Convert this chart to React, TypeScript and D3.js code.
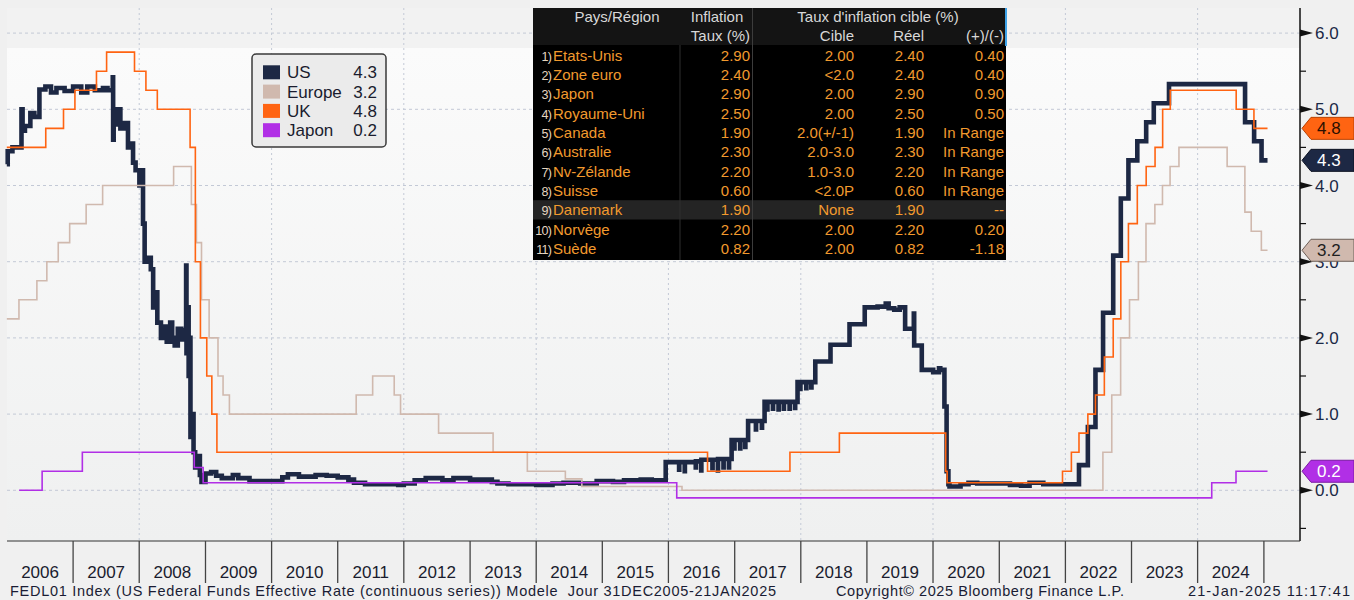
import React from 'react';
import * as d3 from 'd3';

// ---------- Data ----------
const usSeries: [string, number][] = [
  ['2005-12-31', 4.28], ['2006-01-05', 4.45], ['2006-01-31', 4.5], ['2006-03-22', 5.0], ['2006-03-28', 4.72],
  ['2006-04-10', 4.78], ['2006-05-10', 4.95], ['2006-06-01', 4.9], ['2006-06-29', 5.26], ['2006-08-01', 5.3],
  ['2006-09-01', 5.22], ['2006-10-01', 5.28], ['2006-11-15', 5.24], ['2007-01-01', 5.3], ['2007-02-15', 5.22],
  ['2007-03-20', 5.3], ['2007-05-01', 5.25], ['2007-06-15', 5.28], ['2007-07-10', 5.25], ['2007-08-08', 5.42],
  ['2007-08-10', 4.6], ['2007-08-13', 5.0], ['2007-08-20', 4.8], ['2007-09-05', 5.0], ['2007-09-19', 4.75],
  ['2007-10-10', 4.82], ['2007-10-31', 4.5], ['2007-11-15', 4.55], ['2007-11-28', 4.3], ['2007-12-12', 4.2],
  ['2008-01-02', 4.0], ['2008-01-10', 4.2], ['2008-01-22', 3.5], ['2008-01-31', 3.0], ['2008-02-20', 3.05],
  ['2008-03-05', 2.9], ['2008-03-18', 2.4], ['2008-03-26', 2.6], ['2008-04-10', 2.2], ['2008-04-30', 2.0],
  ['2008-05-15', 2.15], ['2008-06-01', 1.95], ['2008-06-20', 2.2], ['2008-07-01', 2.0], ['2008-07-15', 1.9],
  ['2008-08-01', 2.12], ['2008-08-20', 1.98], ['2008-09-10', 2.1], ['2008-09-16', 2.95], ['2008-09-18', 1.8],
  ['2008-09-25', 2.4], ['2008-09-30', 1.5], ['2008-10-06', 2.0], ['2008-10-10', 0.7], ['2008-10-20', 1.0],
  ['2008-10-27', 0.5], ['2008-11-05', 0.3], ['2008-11-20', 0.45], ['2008-12-01', 0.2], ['2008-12-10', 0.11],
  ['2009-01-01', 0.22], ['2009-02-01', 0.24], ['2009-03-01', 0.19], ['2009-04-01', 0.16], ['2009-06-01', 0.2],
  ['2009-07-01', 0.16], ['2009-09-01', 0.12], ['2009-10-01', 0.12], ['2010-01-01', 0.12], ['2010-03-01', 0.17],
  ['2010-04-01', 0.21], ['2010-06-01', 0.18], ['2010-09-01', 0.2], ['2010-11-01', 0.19], ['2011-01-01', 0.17],
  ['2011-03-01', 0.14], ['2011-04-01', 0.1], ['2011-06-01', 0.08], ['2011-09-01', 0.08], ['2011-12-01', 0.07],
  ['2012-01-01', 0.09], ['2012-03-01', 0.13], ['2012-05-01', 0.16], ['2012-08-01', 0.13], ['2012-10-01', 0.16],
  ['2013-01-01', 0.14], ['2013-05-01', 0.11], ['2013-06-01', 0.09], ['2013-08-01', 0.08], ['2014-01-01', 0.07],
  ['2014-04-01', 0.09], ['2014-06-01', 0.1], ['2014-09-01', 0.09], ['2014-12-01', 0.12], ['2015-03-01', 0.11],
  ['2015-05-01', 0.13], ['2015-08-01', 0.14], ['2015-10-01', 0.13], ['2015-12-17', 0.37], ['2016-02-29', 0.27],
  ['2016-03-01', 0.37], ['2016-03-31', 0.25], ['2016-04-01', 0.37], ['2016-05-31', 0.3], ['2016-06-01', 0.38],
  ['2016-06-30', 0.26], ['2016-07-01', 0.4], ['2016-08-31', 0.29], ['2016-09-01', 0.4], ['2016-09-30', 0.26],
  ['2016-10-01', 0.41], ['2016-10-31', 0.3], ['2016-11-01', 0.41], ['2016-11-30', 0.3], ['2016-12-01', 0.41],
  ['2016-12-15', 0.66], ['2016-12-30', 0.55], ['2016-12-31', 0.66], ['2017-01-31', 0.55], ['2017-02-01', 0.66],
  ['2017-02-28', 0.57], ['2017-03-01', 0.66], ['2017-03-16', 0.91], ['2017-04-28', 0.8], ['2017-04-29', 0.91],
  ['2017-05-31', 0.82], ['2017-06-01', 0.91], ['2017-06-15', 1.16], ['2017-06-30', 1.06], ['2017-07-01', 1.16],
  ['2017-07-31', 1.07], ['2017-08-01', 1.16], ['2017-08-31', 1.06], ['2017-09-01', 1.16], ['2017-09-29', 1.07],
  ['2017-09-30', 1.16], ['2017-10-31', 1.07], ['2017-11-01', 1.16], ['2017-11-30', 1.08], ['2017-12-01', 1.16],
  ['2017-12-14', 1.42], ['2017-12-29', 1.33], ['2017-12-30', 1.42], ['2018-01-31', 1.34], ['2018-02-01', 1.42],
  ['2018-02-28', 1.35], ['2018-03-01', 1.42], ['2018-03-22', 1.69], ['2018-06-14', 1.91], ['2018-09-27', 2.18],
  ['2018-12-20', 2.4], ['2019-03-01', 2.41], ['2019-04-15', 2.45], ['2019-05-01', 2.39], ['2019-06-01', 2.37],
  ['2019-07-01', 2.4], ['2019-07-31', 2.12], ['2019-09-17', 2.32], ['2019-09-19', 1.9], ['2019-10-31', 1.58],
  ['2020-01-02', 1.55], ['2020-02-03', 1.6], ['2020-02-10', 1.58], ['2020-03-04', 1.1], ['2020-03-16', 0.25],
  ['2020-03-26', 0.08], ['2020-04-01', 0.05], ['2020-06-01', 0.08], ['2020-07-15', 0.1], ['2020-09-01', 0.09],
  ['2021-01-01', 0.09], ['2021-03-01', 0.07], ['2021-05-01', 0.06], ['2021-06-17', 0.1], ['2021-09-01', 0.08],
  ['2022-01-01', 0.08], ['2022-03-17', 0.33], ['2022-05-05', 0.83], ['2022-06-16', 1.58], ['2022-07-28', 2.33],
  ['2022-09-22', 3.08], ['2022-11-03', 3.83], ['2022-12-15', 4.33], ['2023-02-02', 4.58], ['2023-03-23', 4.83],
  ['2023-05-04', 5.08], ['2023-07-27', 5.33], ['2024-09-19', 4.83], ['2024-11-08', 4.58], ['2024-12-19', 4.33],
  ['2025-01-21', 4.33],
];

const europeSeries: [string, number][] = [
  ['2005-12-31', 2.25], ['2006-03-08', 2.5], ['2006-06-15', 2.75], ['2006-08-09', 3.0], ['2006-10-11', 3.25],
  ['2006-12-13', 3.5], ['2007-03-14', 3.75], ['2007-06-13', 4.0], ['2008-07-09', 4.25], ['2008-10-15', 3.75],
  ['2008-11-12', 3.25], ['2008-12-10', 2.5], ['2009-01-21', 2.0], ['2009-03-11', 1.5], ['2009-04-08', 1.25],
  ['2009-05-13', 1.0], ['2011-04-13', 1.25], ['2011-07-13', 1.5], ['2011-11-09', 1.25], ['2011-12-14', 1.0],
  ['2012-07-11', 0.75], ['2013-05-08', 0.5], ['2013-11-13', 0.25], ['2014-06-11', 0.15], ['2014-09-10', 0.05],
  ['2016-03-16', 0.0], ['2022-07-27', 0.5], ['2022-09-14', 1.25], ['2022-11-02', 2.0], ['2022-12-21', 2.5],
  ['2023-02-08', 3.0], ['2023-03-22', 3.5], ['2023-05-10', 3.75], ['2023-06-21', 4.0], ['2023-08-02', 4.25],
  ['2023-09-20', 4.5], ['2024-06-12', 4.25], ['2024-09-18', 3.65], ['2024-10-23', 3.4], ['2024-12-18', 3.15],
  ['2025-01-21', 3.15],
];

const ukSeries: [string, number][] = [
  ['2005-12-31', 4.5], ['2006-08-03', 4.75], ['2006-11-09', 5.0], ['2007-01-11', 5.25], ['2007-05-10', 5.5],
  ['2007-07-05', 5.75], ['2007-12-06', 5.5], ['2008-02-07', 5.25], ['2008-04-10', 5.0], ['2008-10-08', 4.5],
  ['2008-11-06', 3.0], ['2008-12-04', 2.0], ['2009-01-08', 1.5], ['2009-02-05', 1.0], ['2009-03-05', 0.5],
  ['2016-08-04', 0.25], ['2017-11-02', 0.5], ['2018-08-02', 0.75], ['2020-03-11', 0.25], ['2020-03-19', 0.1],
  ['2021-12-16', 0.25], ['2022-02-03', 0.5], ['2022-03-17', 0.75], ['2022-05-05', 1.0], ['2022-06-16', 1.25],
  ['2022-08-04', 1.75], ['2022-09-22', 2.25], ['2022-11-03', 3.0], ['2022-12-15', 3.5], ['2023-02-02', 4.0],
  ['2023-03-23', 4.25], ['2023-05-11', 4.5], ['2023-06-22', 5.0], ['2023-08-03', 5.25], ['2024-08-01', 5.0],
  ['2024-11-07', 4.75], ['2025-01-21', 4.75],
];

const japanSeries: [string, number][] = [
  ['2006-03-09', 0.0], ['2006-07-14', 0.25], ['2007-02-21', 0.5], ['2008-10-31', 0.3], ['2008-12-19', 0.1],
  ['2016-02-16', -0.1], ['2024-03-19', 0.1], ['2024-07-31', 0.25], ['2025-01-21', 0.25],
];

const legendNames = ['US', 'Europe', 'UK', 'Japon'];
const legendValues = ['4.3', '3.2', '4.8', '0.2'];
const lastValues = [4.33, 3.15, 4.75, 0.25];

const yTicks = [0, 1, 2, 3, 4, 5, 6];
const yMinorTicks = [-0.5, 0.5, 1.5, 2.5, 3.5, 4.5, 5.5];
const yearLabels = d3.range(2006, 2025);
const gridYears = [2008, 2010, 2012, 2014, 2016, 2018, 2020, 2022, 2024];

const tableCountries = ['Etats-Unis', 'Zone euro', 'Japon', 'Royaume-Uni', 'Canada', 'Australie', 'Nv-Zélande', 'Suisse', 'Danemark', 'Norvège', 'Suède'];
const tableInflation = ['2.90', '2.40', '2.90', '2.50', '1.90', '2.30', '2.20', '0.60', '1.90', '2.20', '0.82'];
const tableTarget = ['2.00', '<2.0', '2.00', '2.00', '2.0(+/-1)', '2.0-3.0', '1.0-3.0', '<2.0P', 'None', '2.00', '2.00'];
const tableActual = ['2.40', '2.40', '2.90', '2.50', '1.90', '2.30', '2.20', '0.60', '1.90', '2.20', '0.82'];
const tableDiff = ['0.40', '0.40', '0.90', '0.50', 'In Range', 'In Range', 'In Range', 'In Range', '--', '0.20', '-1.18'];

const footerLeft = 'FEDL01 Index (US Federal Funds Effective Rate (continuous series)) Modele  Jour 31DEC2005-21JAN2025';
const footerMid = 'Copyright© 2025 Bloomberg Finance L.P.';
const footerRight = '21-Jan-2025 11:17:41';

// ---------- Styles ----------
const COLORS = ['#1d2844', '#d0b9ae', '#ff6412', '#b12fe6'];
const TAG_TEXT = ['#ffffff', '#1e1e1e', '#2a1000', '#ffffff'];
const TAG_STROKE = ['#0c1222', '#6d5f58', '#b84000', '#7a1aa3'];
const FONT = '"Liberation Sans", Arial, sans-serif';
const ORANGE_TXT = '#f29a2e';

export default function App() {
  const parse = d3.timeParse('%Y-%m-%d');
  const x = d3.scaleTime().domain([new Date(2006, 0, 1), new Date(2025, 0, 1)]).range([7, 1263.9]);
  const y = d3.scaleLinear().domain([0, 6]).range([490.3, 33.1]);
  const line = d3
    .line<[string, number]>()
    .x((d) => x(parse(d[0]) as Date))
    .y((d) => y(d[1]))
    .curve(d3.curveStepAfter);

  const plotL = 7, plotR = 1300, plotT = 8, plotB = 541;
  const series = [usSeries, europeSeries, ukSeries, japanSeries];
  const drawOrder = [0, 1, 2, 3];

  const rowY = (i: number) => 55.3 + i * 19.3;

  return (
    <svg width={1354} height={600} style={{ position: 'absolute', left: 0, top: 0, display: 'block' }} fontFamily={FONT}>
      <defs>
        <linearGradient id="bg" x1="0" y1="0" x2="0" y2="1">
          <stop offset="0" stopColor="#f2f2f2" />
          <stop offset="0.075" stopColor="#f2f2f2" />
          <stop offset="0.075" stopColor="#fbfbfb" />
          <stop offset="1" stopColor="#eff0f0" />
        </linearGradient>
      </defs>
      <rect x={0} y={0} width={1354} height={600} fill="#f0f0f0" />
      <rect x={plotL} y={plotT} width={plotR - plotL} height={plotB - plotT} fill="url(#bg)" />

      {/* grid */}
      {yTicks.map((t) => (
        <line key={'hg' + t} x1={plotL} x2={plotR} y1={y(t)} y2={y(t)} stroke="#c3c9d6" strokeWidth={1} strokeDasharray="3,3" />
      ))}
      {gridYears.map((yr) => (
        <line key={'vg' + yr} x1={x(new Date(yr, 0, 1))} x2={x(new Date(yr, 0, 1))} y1={plotT} y2={plotB} stroke="#c3c9d6" strokeWidth={1} strokeDasharray="2,3" />
      ))}

      {/* series */}
      {drawOrder.map((i) => (
        <path
          key={'s' + i}
          d={line(series[i]) || ''}
          fill="none"
          stroke={COLORS[i]}
          strokeWidth={i === 0 ? 4.6 : 1.6}
          strokeLinejoin="miter"
        />
      ))}

      {/* axes */}
      <line x1={plotR} x2={plotR} y1={plotT} y2={plotB} stroke="#111" strokeWidth={1.5} />
      <line x1={plotL} x2={plotR} y1={plotB} y2={plotB} stroke="#333" strokeWidth={1.2} />
      {yMinorTicks.map((t) => (
        <line key={'mt' + t} x1={plotR} x2={plotR + 6} y1={y(t)} y2={y(t)} stroke="#111" strokeWidth={1.2} />
      ))}
      {yTicks.map((t) => (
        <g key={'yt' + t}>
          <polygon points={`${plotR},${y(t) - 3.5} ${plotR + 13},${y(t)} ${plotR},${y(t) + 3.5}`} fill="#111" />
          <text x={plotR + 15} y={y(t) + 6} fontSize={17} fill="#1b2946">
            {t.toFixed(1)}
          </text>
        </g>
      ))}

      {/* year axis */}
      {d3.range(2007, 2026).map((yr) => (
        <line key={'yk' + yr} x1={x(new Date(yr, 0, 1))} x2={x(new Date(yr, 0, 1))} y1={plotB} y2={583} stroke="#444" strokeWidth={1.3} />
      ))}
      {yearLabels.map((yr) => {
        const cx = (x(new Date(yr, 0, 1)) + x(new Date(yr + 1, 0, 1))) / 2;
        return (
          <text key={'yl' + yr} x={cx} y={578} fontSize={17} textAnchor="middle" fill="#1a1c2e">
            {yr}
          </text>
        );
      })}

      {/* footer */}
      <text x={10} y={596} fontSize={14.5} fill="#1a1c34" style={{ whiteSpace: 'pre' }} textLength={766} lengthAdjust="spacing">
        {footerLeft}
      </text>
      <text x={836} y={596} fontSize={14.5} fill="#1a1c34" textLength={288} lengthAdjust="spacing">
        {footerMid}
      </text>
      <text x={1188} y={596} fontSize={14.5} fill="#1a1c34" textLength={162} lengthAdjust="spacing">
        {footerRight}
      </text>

      {/* right tags */}
      {lastValues.map((v, i) => {
        const cy = y(v);
        const h = 11;
        return (
          <g key={'tag' + i}>
            <polygon
              points={`${plotR + 2},${cy} ${plotR + 11},${cy - h} 1354,${cy - h} 1354,${cy + h} ${plotR + 11},${cy + h}`}
              fill={COLORS[i]}
              stroke={TAG_STROKE[i]}
              strokeWidth={1}
            />
            <text x={plotR + 17} y={cy + 6} fontSize={17} fill={TAG_TEXT[i]}>
              {legendValues[i]}
            </text>
          </g>
        );
      })}

      {/* legend */}
      <rect x={252} y={54} width={134} height={93} rx={4} fill="#ebebeb" stroke="#3a3a3a" strokeWidth={1.5} />
      {legendNames.map((n, i) => {
        const cy = 72.3 + i * 19.3;
        return (
          <g key={'lg' + i}>
            <rect x={263} y={cy - 7} width={17} height={14} fill={COLORS[i]} />
            <text x={287} y={cy + 6} fontSize={17} fill="#1a1c2e">
              {n}
            </text>
            <text x={377} y={cy + 6} fontSize={17} fill="#1a1c2e" textAnchor="end">
              {legendValues[i]}
            </text>
          </g>
        );
      })}

      {/* table */}
      <rect x={533} y={8} width={473} height={252} fill="#000" />
      <rect x={533} y={8} width={473} height={37} fill="#141414" />
      <rect x={533} y={rowY(8) - 9.5} width={473} height={19.3} fill="#242424" />
      <line x1={680} x2={680} y1={45} y2={260} stroke="#2e2e2e" strokeWidth={1} />
      <line x1={752.5} x2={752.5} y1={8} y2={260} stroke="#3c3c3c" strokeWidth={1} />
      <rect x={1005} y={8} width={2} height={38} fill="#3fa3e8" />
      <text x={617} y={22} fontSize={15} fill="#d8d8d8" textAnchor="middle">Pays/Région</text>
      <text x={717} y={22} fontSize={15} fill="#d8d8d8" textAnchor="middle">Inflation</text>
      <text x={878} y={22} fontSize={15} fill="#d8d8d8" textAnchor="middle">Taux d'inflation cible (%)</text>
      <text x={750} y={41} fontSize={15} fill="#d8d8d8" textAnchor="end">Taux (%)</text>
      <text x={854} y={41} fontSize={15} fill="#d8d8d8" textAnchor="end">Cible</text>
      <text x={924} y={41} fontSize={15} fill="#d8d8d8" textAnchor="end">Réel</text>
      <text x={1004} y={41} fontSize={15} fill="#d8d8d8" textAnchor="end">(+)/(-)</text>
      {tableCountries.map((c, i) => {
        const by = rowY(i) + 5.5;
        return (
          <g key={'tr' + i}>
            <text x={551} y={by} fontSize={12.5} fill="#e6d6c0" textAnchor="end" letterSpacing={-0.8}>
              {i + 1 + ')'}
            </text>
            <text x={553} y={by} fontSize={15} fill={ORANGE_TXT}>{c}</text>
            <text x={750} y={by} fontSize={15} fill={ORANGE_TXT} textAnchor="end">{tableInflation[i]}</text>
            <text x={854} y={by} fontSize={15} fill={ORANGE_TXT} textAnchor="end">{tableTarget[i]}</text>
            <text x={924} y={by} fontSize={15} fill={ORANGE_TXT} textAnchor="end">{tableActual[i]}</text>
            <text x={1004} y={by} fontSize={15} fill={ORANGE_TXT} textAnchor="end">{tableDiff[i]}</text>
          </g>
        );
      })}
    </svg>
  );
}
